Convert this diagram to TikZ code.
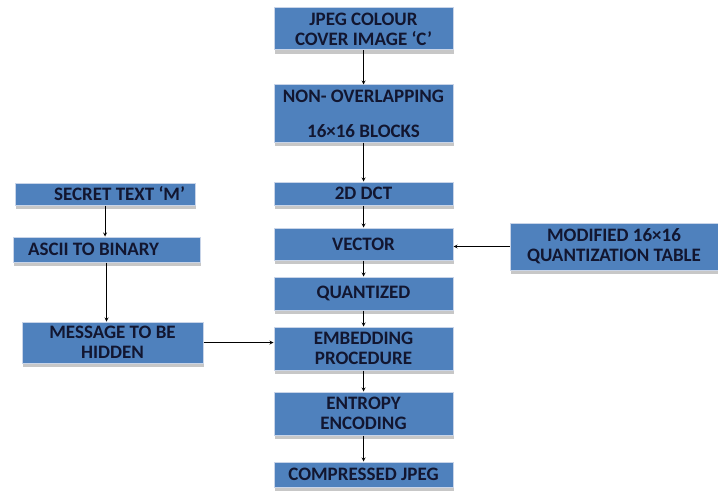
\documentclass[tikz,border=0pt]{standalone}
\usepackage{fontspec}
\setmainfont{Carlito}[BoldFont=Carlito Bold]
\usetikzlibrary{shadows}
\definecolor{boxblue}{RGB}{79,129,189}
\definecolor{boxedge}{RGB}{200,212,232}
\definecolor{boxtext}{RGB}{18,22,48}
\begin{document}
\begin{tikzpicture}
[x=1pt,y=-1pt,%
  every node/.style={shape=rectangle,draw=boxedge,line width=1pt,fill=boxblue,
    text=boxtext,font=\fontsize{19}{20}\selectfont\bfseries,align=center,
    inner sep=1pt,drop shadow={shadow xshift=1pt,shadow yshift=-4pt,fill=black!22,opacity=1}},%
  flowbox/.style={minimum width=179pt},
  sidebox/.style={minimum width=#1pt}]
\useasboundingbox (0,0) rectangle (718,495);
%% main column
\node[flowbox,minimum height=42pt] (cover) at (363.5,29) {JPEG COLOUR\\COVER IMAGE ‘C’};
\node[flowbox,minimum height=57pt] (blocks) at (363.5,113.5) {NON- OVERLAPPING\\[15pt]16×16 BLOCKS};
\node[flowbox,minimum height=23pt] (dct) at (363.5,193.5) {2D DCT};
\node[flowbox,minimum height=32pt] (vector) at (363.5,244) {VECTOR};
\node[flowbox,minimum height=33pt] (quant) at (363.5,293.5) {QUANTIZED};
\node[flowbox,minimum height=43pt] (embed) at (363.5,348.5) {EMBEDDING\\PROCEDURE};
\node[flowbox,minimum height=43pt] (entropy) at (363.5,413.5) {ENTROPY\\ENCODING};
\node[flowbox,minimum height=25pt] (jpeg) at (363.5,474.5) {COMPRESSED JPEG};
%% message column
\node[sidebox=180,minimum height=22pt,text width=160pt,align=flush right] (secret) at (105,194) {SECRET TEXT ‘M’};
\node[sidebox=187,minimum height=25pt,text width=157pt,align=flush left] (ascii) at (106.5,249.5) {ASCII TO BINARY};
\node[sidebox=181,minimum height=41pt] (message) at (112.5,342.5) {MESSAGE TO BE\\HIDDEN};
%% quantization table
\node[sidebox=208,minimum height=47pt] (table) at (614,246.5) {MODIFIED 16×16\\QUANTIZATION TABLE};
\path
\foreach \startNode/\endNode in {cover/blocks, blocks/dct, dct/vector, vector/quant,
  quant/embed, embed/entropy, entropy/jpeg}
{
  (\startNode) edge[->,>=stealth,thick,draw=black] (\endNode)
};
\draw[->,>=stealth,thick] (secret) -- (secret |- ascii.north);
\draw[->,>=stealth,thick] (ascii) -- (ascii |- message.north);
\draw[->,>=stealth,thick] (table.west) -- (table.west -| vector.east);
\draw[->,>=stealth,thick] (message.east) -- (message.east -| embed.west);
\end{tikzpicture}
\end{document}
